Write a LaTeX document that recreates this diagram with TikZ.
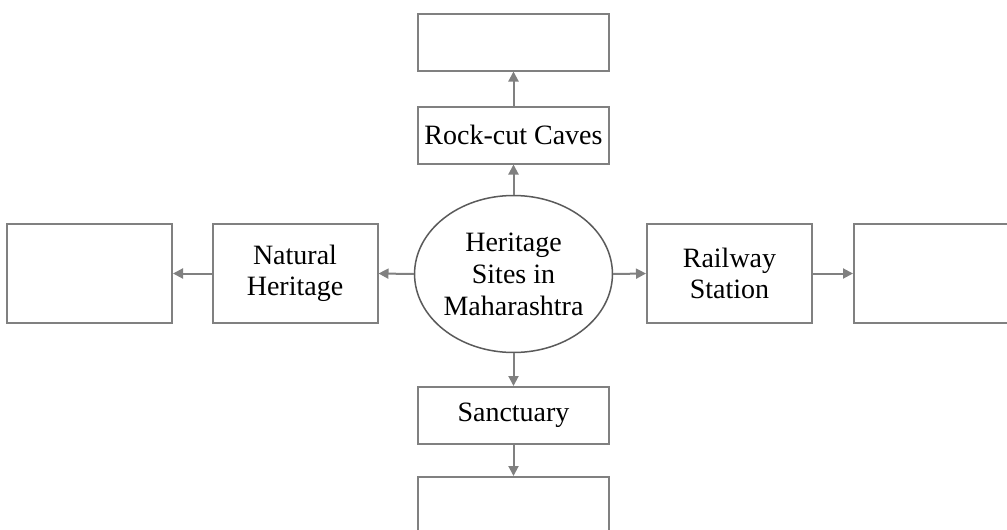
\documentclass[tikz,border=0pt]{standalone}
\usepackage{fontspec}
\setmainfont{Liberation Serif}
\usetikzlibrary{shapes.geometric, arrows.meta, positioning}
\definecolor{boxgray}{RGB}{128,128,128}
\definecolor{ovalgray}{RGB}{90,90,90}

\begin{document}
\begin{tikzpicture}[x=1pt,y=-1pt]
		\tikzset{sitebox/.style = {draw=boxgray, line width=2pt, rectangle, inner sep=0pt, align=center,
				font=\fontsize{28}{31}\selectfont, minimum width=191pt, minimum height=57pt}}
		\tikzset{sidebox/.style = {sitebox, minimum width=165pt, minimum height=99pt}}
		\tikzset{hub/.style = {draw=ovalgray, line width=1.5pt, ellipse, inner sep=0pt, align=center,
				font=\fontsize{28}{32}\selectfont, minimum width=191pt, minimum height=157pt}}
		\tikzset{link/.style = {draw=boxgray, line width=2pt, -{Triangle[length=10pt,width=10pt]}}}
		\useasboundingbox (0,0) rectangle (1007,530);
		
		\node[hub] (H) at (513.5,274) {Heritage\\Sites in\\Maharashtra};
		
		\node[sitebox] (T1) at (513.5,42) {};
		\node[sitebox] (T2) at (513.5,135) {Rock-cut Caves};
		
		\node[sitebox] (B2) at (513.5,415.5) {Sanctuary};
		\node[sitebox, minimum height=58pt] (B1) at (513.5,506) {};
		
		\node[sidebox] (L2) at (295,273.5) {Natural\\Heritage};
		\node[sidebox] (L1) at (89.5,273.5) {};
		
		\node[sidebox] (R2) at (729.5,273.5) {Railway\\Station};
		\node[sidebox, minimum width=185pt] (R1) at (946.5,273.5) {};
		
		%%%%%%%%%%%%%%%%%%%%%%%%%%%%%%
		
		\draw[link] (H.north) -- (T2.south);
		\draw[link] (T2.north) -- (T1.south);
		\draw[link] (H.south) -- (B2.north);
		\draw[link] (B2.south) -- (B1.north);
		\draw[link] (H.west) -- (L2.east);
		\draw[link] (L2.west) -- (L1.east);
		\draw[link] (H.east) -- (R2.west);
		\draw[link] (R2.east) -- (R1.west);
		
\end{tikzpicture}
\end{document}
